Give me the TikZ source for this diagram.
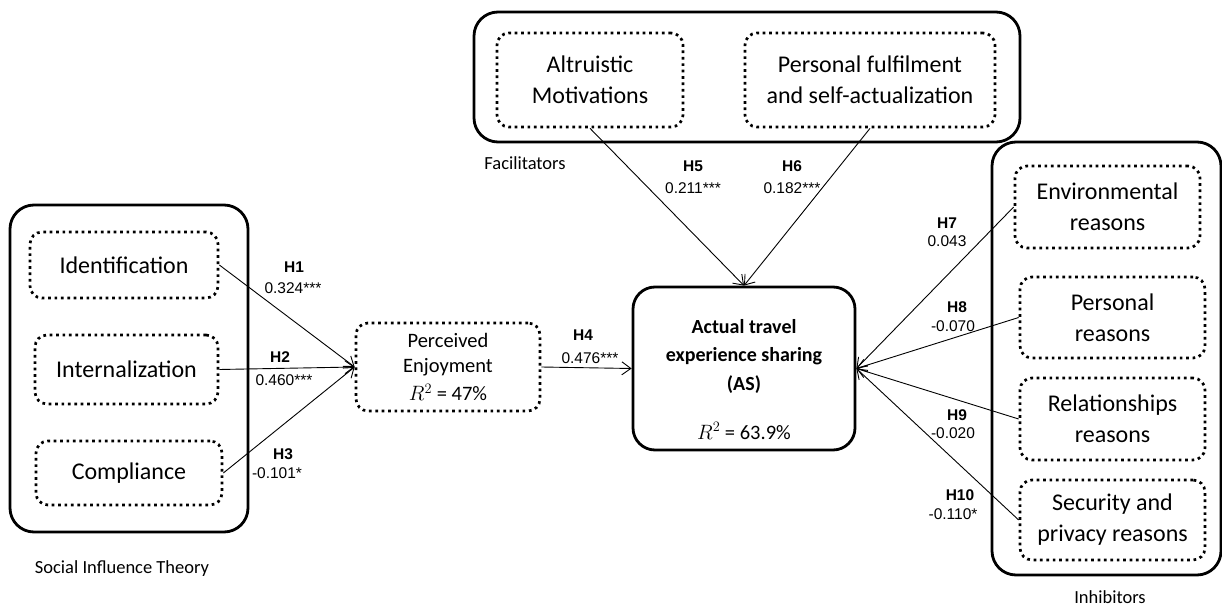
\documentclass[tikz,border=0pt]{standalone}
\usepackage{fontspec}
\setmainfont{Carlito}
\newfontfamily\arialf{Liberation Sans}
\usetikzlibrary{arrows.meta}
\begin{document}
\begin{tikzpicture}[x=1pt,y=-1pt,
  outerbox/.style={draw, line width=2.8pt, rounded corners=24pt, inner sep=0pt},
  dotbox/.style={draw, line width=2.7pt, dash pattern=on 2.7pt off 3.7pt, rounded corners=12pt, inner sep=0pt, align=center, font=\fontsize{24}{31}\selectfont},
  conn/.style={line width=0.9pt, -{Straight Barb[length=9pt,width=13pt,line width=0.9pt]}},
  hlab/.style={font=\arialf\bfseries\fontsize{15.5}{18}\selectfont, inner sep=0pt},
  nlab/.style={font=\arialf\fontsize{15.5}{18}\selectfont, inner sep=0pt},
  grp/.style={font=\fontsize{18.5}{22}\selectfont, inner sep=0pt}
]
\useasboundingbox (0,0) rectangle (1222,609);

% group boxes
\node[outerbox, minimum width=238pt, minimum height=327pt] (sit) at (129,368.5) {};
\node[outerbox, minimum width=546pt, minimum height=130pt] (fac) at (747,77) {};
\node[outerbox, minimum width=229pt, minimum height=433pt] (inh) at (1106.5,358.5) {};

% social influence
\node[dotbox, minimum width=188pt, minimum height=66pt] (ident) at (124,265) {Identification};
\node[dotbox, minimum width=183pt, minimum height=69pt] (intern) at (126.5,369.5) {Internalization};
\node[dotbox, minimum width=186pt, minimum height=64pt] (compl) at (129,473) {Compliance};

% perceived enjoyment
\node[dotbox, minimum width=184pt, minimum height=88pt, font=\fontsize{20.5}{25}\selectfont] (pe) at (448,367) {Perceived\\Enjoyment\\[3pt]$R^2$ = 47\%};

% AS
\node[outerbox, rounded corners=22pt, minimum width=222pt, minimum height=163pt] (as) at (744,368.5) {};
\node[inner sep=0pt, align=center, font=\bfseries\fontsize{20}{28.5}\selectfont] (astitle) at (744,356) {Actual travel\\experience sharing\\(AS)};
\node[inner sep=0pt, font=\fontsize{20.5}{24}\selectfont] (asr) at (744,431) {$R^2$ = 63.9\%};

% facilitators
\node[dotbox, minimum width=186pt, minimum height=94pt] (alt) at (590,80) {Altruistic\\Motivations};
\node[dotbox, minimum width=250pt, minimum height=94pt] (pf) at (870,80) {Personal fulfilment\\and self-actualization};

% inhibitors
\node[dotbox, minimum width=185pt, minimum height=82pt] (env) at (1107.5,207) {Environmental\\reasons};
\node[dotbox, minimum width=185pt, minimum height=81pt] (pers) at (1112.5,317.5) {Personal\\reasons};
\node[dotbox, minimum width=185pt, minimum height=82pt] (rel) at (1112.5,419) {Relationships\\reasons};
\node[dotbox, minimum width=185pt, minimum height=80pt] (sec) at (1112.5,520) {Security and\\privacy reasons};

% group labels
\node[grp] (lsit) at (122,569) {Social Influence Theory};
\node[grp] (lfac) at (525,163) {Facilitators};
\node[grp] (linh) at (1110,597) {Inhibitors};

% connectors
\draw[conn] (ident.east) -- (pe.west);
\draw[conn] (intern.east) -- (pe.west);
\draw[conn] (compl.east) -- (pe.west);
\draw[conn] (pe.east) -- (as.west);
\draw[conn] (alt.south) -- (as.north);
\draw[conn] (pf.south) -- (as.north);
\draw[conn] (env.west) -- (as.east);
\draw[conn] (pers.west) -- (as.east);
\draw[conn] (rel.west) -- (as.east);
\draw[conn] (sec.west) -- (as.east);

% path labels
\node[hlab] (h1) at (294,267) {H1};
\node[nlab] (n1) at (293,288) {0.324***};
\node[hlab] (h2) at (280,357) {H2};
\node[nlab] (n2) at (284,380) {0.460***};
\node[hlab] (h3) at (283,454) {H3};
\node[nlab] (n3) at (277,473) {-0.101*};
\node[hlab] (h4) at (583,335) {H4};
\node[nlab] (n4) at (590,358) {0.476***};
\node[hlab] (h5) at (693,166) {H5};
\node[nlab] (n5) at (693,188) {0.211***};
\node[hlab] (h6) at (792,166) {H6};
\node[nlab] (n6) at (792,188) {0.182***};
\node[hlab] (h7) at (947,223) {H7};
\node[nlab] (n7) at (947,241) {0.043};
\node[hlab] (h8) at (957,307) {H8};
\node[nlab] (n8) at (953,326) {-0.070};
\node[hlab] (h9) at (957,415) {H9};
\node[nlab] (n9) at (953,433) {-0.020};
\node[hlab] (h10) at (960,495) {H10};
\node[nlab] (n10) at (953,514) {-0.110*};
\end{tikzpicture}
\end{document}
